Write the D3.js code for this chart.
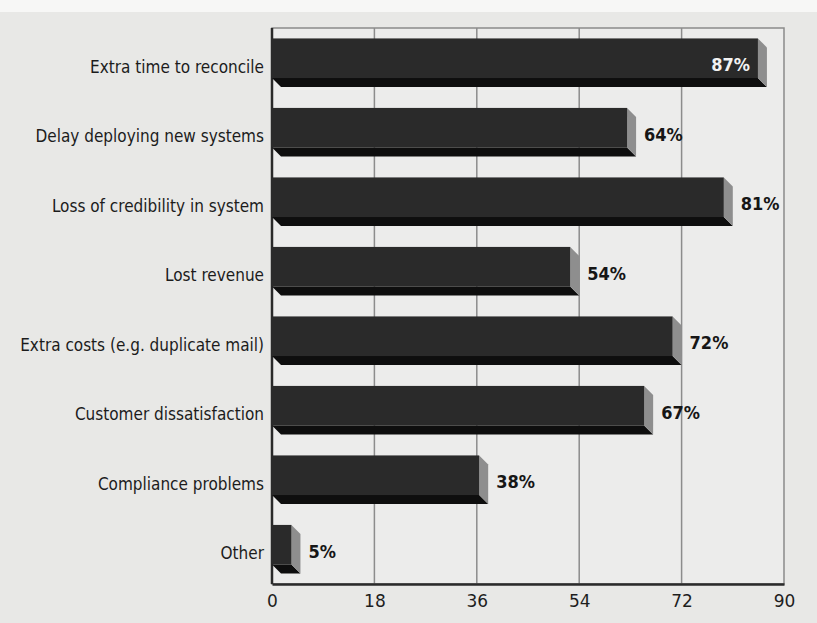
<!DOCTYPE html>
<html>
<head>
<meta charset="utf-8">
<script src="https://cdn.jsdelivr.net/npm/d3@7"></script>
<style>
  body { margin: 0; background: #e8e8e6; }
  svg { display: block; }
</style>
</head>
<body>
<div id="chart"></div>
<script>
let categories = [
  'Extra time to reconcile',
  'Delay deploying new systems',
  'Loss of credibility in system',
  'Lost revenue',
  'Extra costs (e.g. duplicate mail)',
  'Customer dissatisfaction',
  'Compliance problems',
  'Other'
]
let values = [87, 64, 81, 54, 72, 67, 38, 5]
let tickValues = [0, 18, 36, 54, 72, 90]

let margin = { top: 28, left: 272, right: 33, bottom: 39 }
let width = 817 - margin.left - margin.right
let height = 623 - margin.top - margin.bottom
let depth = 9

let svg = d3
  .select('#chart')
  .append('svg')
  .attr('width', 817)
  .attr('height', 623)

// whiter strip at top of the scanned page
svg.append('rect')
  .attr('width', 817)
  .attr('height', 12)
  .attr('fill', '#f7f7f6')

let g = svg
  .append('g')
  .attr('transform', `translate(${margin.left},${margin.top})`)

let xScale = d3.scaleLinear().domain([0, 90]).range([0, width])

let yScale = d3
  .scaleBand()
  .domain(categories)
  .range([0, height])
  .paddingInner(0.3)
  .paddingOuter(0.15)

let data = categories.map((c, i) => ({ name: c, value: values[i] }))

g.append('rect')
  .attr('width', width)
  .attr('height', height)
  .attr('fill', '#ececeb')
  .attr('stroke', '#8a8a8a')
  .attr('stroke-width', 1.5)

// grid
g.selectAll('.grid')
  .data(tickValues.slice(1, -1))
  .enter()
  .append('line')
  .attr('class', 'grid')
  .attr('x1', d => xScale(d))
  .attr('x2', d => xScale(d))
  .attr('y1', 0)
  .attr('y2', height)
  .attr('stroke', '#8c8c8c')
  .attr('stroke-width', 1.5)

// axes
let xAxis = d3.axisBottom(xScale).tickValues(tickValues).tickSize(0).tickPadding(11)
g.append('g')
  .attr('transform', `translate(0,${height})`)
  .call(xAxis)
  .call(a => a.select('.domain').attr('stroke', '#2a2a2a').attr('stroke-width', 2.5))
  .selectAll('text')
  .attr('font-family', 'DejaVu Sans, sans-serif')
  .attr('font-size', 17)
  .attr('fill', '#1e1e1e')

g.append('line')
  .attr('x1', 0)
  .attr('x2', 0)
  .attr('y1', 0)
  .attr('y2', height)
  .attr('stroke', '#2a2a2a')
  .attr('stroke-width', 2.5)

// 3d bars
let bars = g
  .selectAll('.bar')
  .data(data)
  .enter()
  .append('g')
  .attr('class', 'bar')
  .attr('transform', d => `translate(0,${yScale(d.name)})`)

let h = yScale.bandwidth() - depth

bars.each(function(d) {
  let b = d3.select(this)
  let xe = xScale(d.value) - depth

  b.append('path')
    .attr('d', `M0,${h}L${xe},${h}L${xe + depth},${h + depth}L${depth},${h + depth}Z`)
    .attr('fill', '#0e0e0e')

  b.append('path')
    .attr('d', `M${xe},0L${xe + depth},${depth}L${xe + depth},${h + depth}L${xe},${h}Z`)
    .attr('fill', '#8e8e8e')

  b.append('rect')
    .attr('x', 0)
    .attr('y', 0)
    .attr('width', xe)
    .attr('height', h)
    .attr('fill', '#2a2a2a')

  let inside = xScale(d.value) + 50 > width
  b.append('text')
    .text(d.value + '%')
    .attr('x', inside ? xe - 8 : xScale(d.value) + 8)
    .attr('y', yScale.bandwidth() / 2 + 2)
    .attr('dy', '0.35em')
    .attr('text-anchor', inside ? 'end' : 'start')
    .attr('font-family', 'DejaVu Sans Condensed, DejaVu Sans, sans-serif')
    .attr('font-stretch', 'condensed')
    .attr('font-weight', 'bold')
    .attr('font-size', 18)
    .attr('fill', inside ? '#f2f2f2' : '#161616')
})

// category labels
g.selectAll('.cat')
  .data(data)
  .enter()
  .append('text')
  .attr('class', 'cat')
  .text(d => d.name)
  .attr('x', -8)
  .attr('y', d => yScale(d.name) + yScale.bandwidth() / 2 + 4)
  .attr('dy', '0.35em')
  .attr('text-anchor', 'end')
  .attr('font-family', 'DejaVu Sans Condensed, DejaVu Sans, sans-serif')
  .attr('font-stretch', 'condensed')
  .attr('font-size', 17)
  .attr('fill', '#1c1c1c')
</script>
</body>
</html>
